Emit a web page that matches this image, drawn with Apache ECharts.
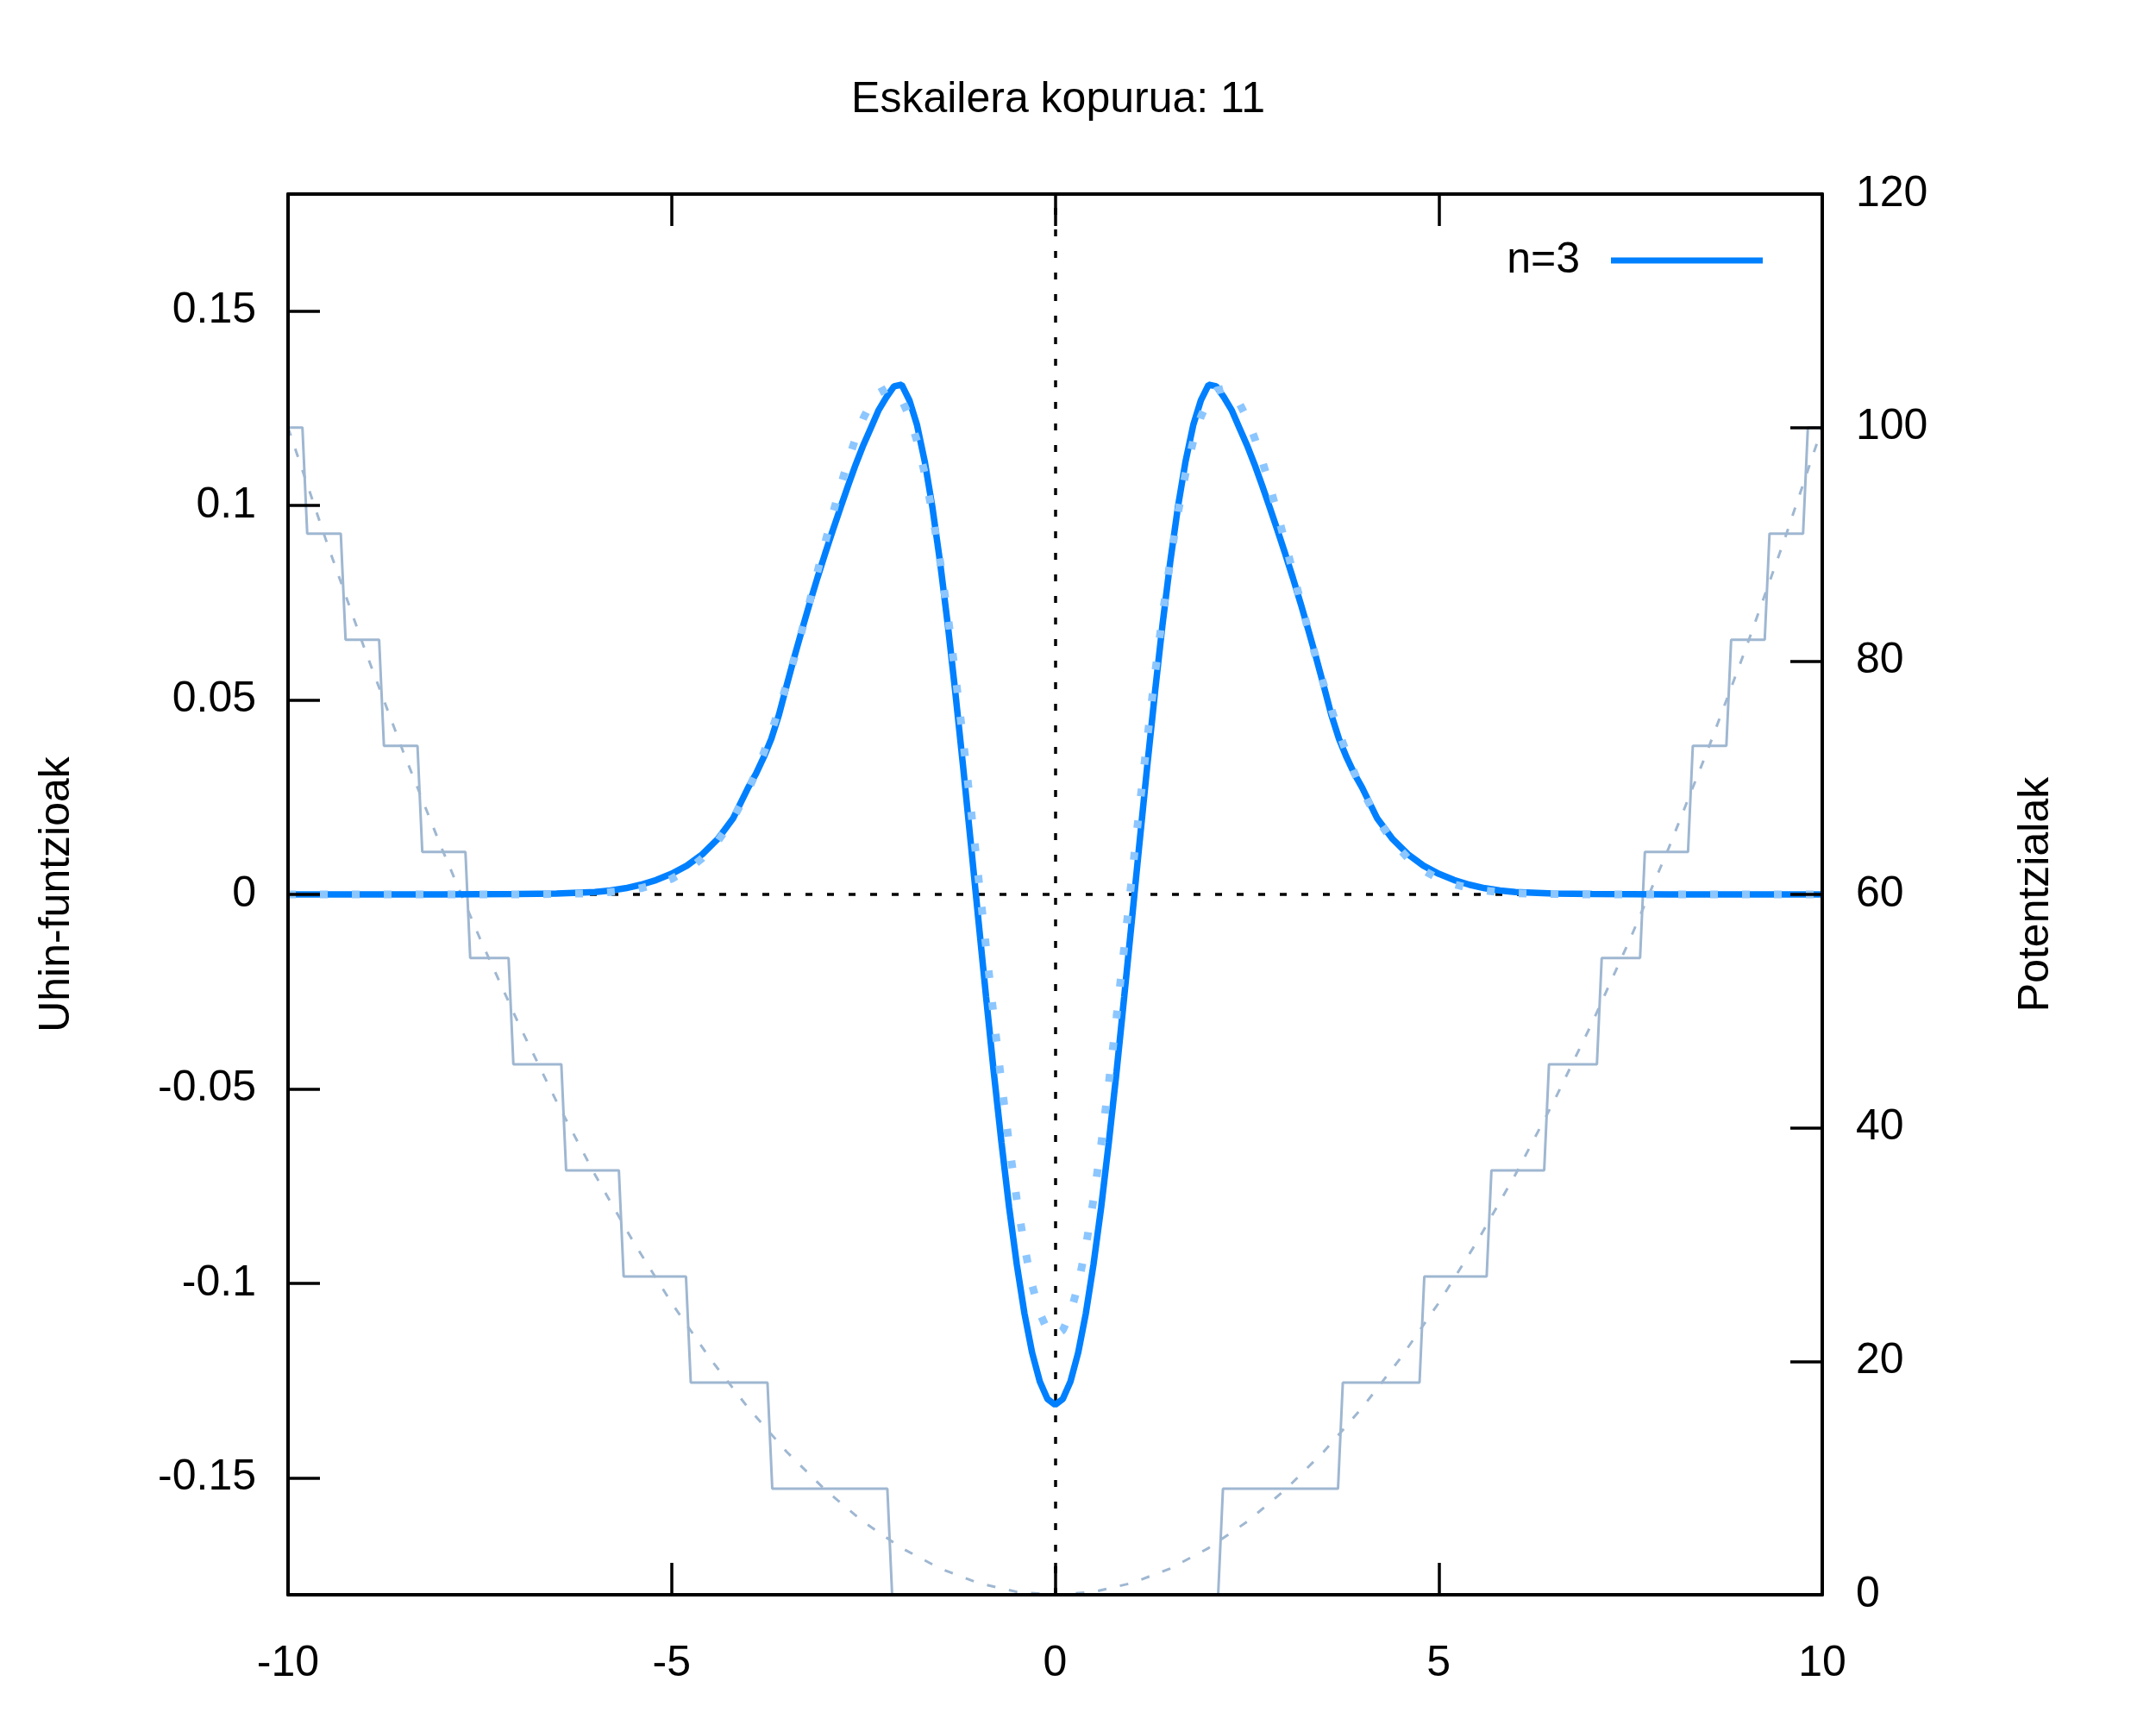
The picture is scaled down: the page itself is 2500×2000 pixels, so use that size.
<!DOCTYPE html>
<html><head><meta charset="utf-8">
<script src="https://cdn.jsdelivr.net/npm/echarts@6/dist/echarts.min.js"></script>
<style>html,body{margin:0;padding:0;background:#fff}#c{width:2500px;height:2000px}</style>
</head><body><div id="c"></div>
<script>
// ---- data ----
const waveX = [-10,-9,-8,-7,-6.5,-6,-5.8,-5.6,-5.4,-5.2,-5,-4.8,-4.6,-4.4,-4.2,-4,-3.9,-3.8,-3.7,-3.6,-3.5,-3.4,-3.3,-3.2,-3.1,-3,-2.9,-2.8,-2.7,-2.6,-2.5,-2.4,-2.3,-2.2,-2.1,-2,-1.9,-1.8,-1.7,-1.6,-1.5,-1.4,-1.3,-1.2,-1.1,-1,-0.9,-0.8,-0.7,-0.6,-0.5,-0.4,-0.3,-0.2,-0.1,0,0.1,0.2,0.3,0.4,0.5,0.6,0.7,0.8,0.9,1,1.1,1.2,1.3,1.4,1.5,1.6,1.7,1.8,1.9,2,2.1,2.2,2.3,2.4,2.5,2.6,2.7,2.8,2.9,3,3.1,3.2,3.3,3.4,3.5,3.6,3.7,3.8,3.9,4,4.2,4.4,4.6,4.8,5,5.2,5.4,5.6,5.8,6,6.5,7,8,9,10];
// n=3 wave function, staircase potential (solid)
const waveStair = [0,0,0,0.0001,0.0002,0.0006,0.0010,0.0016,0.0025,0.0037,0.0053,0.0074,0.0103,0.0142,0.0195,0.0275,0.0310,0.0352,0.0400,0.0462,0.0537,0.0610,0.0680,0.0748,0.0813,0.0875,0.0935,0.0993,0.1050,0.1105,0.1155,0.1200,0.1245,0.1278,0.1306,0.1310,0.1270,0.1206,0.1113,0.0995,0.0854,0.0694,0.0517,0.0329,0.0133,-0.0067,-0.0264,-0.0457,-0.0637,-0.0804,-0.0951,-0.1077,-0.1178,-0.1252,-0.1297,-0.1312,-0.1297,-0.1252,-0.1178,-0.1077,-0.0951,-0.0804,-0.0637,-0.0457,-0.0264,-0.0067,0.0133,0.0329,0.0517,0.0694,0.0854,0.0995,0.1113,0.1206,0.1270,0.1310,0.1306,0.1278,0.1245,0.1200,0.1155,0.1105,0.1050,0.0993,0.0935,0.0875,0.0813,0.0748,0.0680,0.0610,0.0537,0.0462,0.0400,0.0352,0.0310,0.0275,0.0195,0.0142,0.0103,0.0074,0.0053,0.0037,0.0025,0.0016,0.0010,0.0006,0.0002,0.0001,0,0,0];
// n=3 wave function, smooth parabolic potential (dotted)
const waveExact = [0,0,0,0,0.0001,0.0003,0.0006,0.0010,0.0016,0.0026,0.0040,0.0062,0.0093,0.0136,0.0194,0.0269,0.0313,0.0363,0.0417,0.0477,0.0540,0.0608,0.0679,0.0753,0.0828,0.0903,0.0977,0.1048,0.1114,0.1173,0.1224,0.1263,0.1289,0.1300,0.1295,0.1271,0.1228,0.1165,0.1082,0.0979,0.0857,0.0718,0.0564,0.0398,0.0224,0.0044,-0.0137,-0.0315,-0.0484,-0.0642,-0.0784,-0.0905,-0.1004,-0.1076,-0.1120,-0.1135,-0.1120,-0.1076,-0.1004,-0.0905,-0.0784,-0.0642,-0.0484,-0.0315,-0.0137,0.0044,0.0224,0.0398,0.0564,0.0718,0.0857,0.0979,0.1082,0.1165,0.1228,0.1271,0.1295,0.1300,0.1289,0.1263,0.1224,0.1173,0.1114,0.1048,0.0977,0.0903,0.0828,0.0753,0.0679,0.0608,0.0540,0.0477,0.0417,0.0363,0.0313,0.0269,0.0194,0.0136,0.0093,0.0062,0.0040,0.0026,0.0016,0.0010,0.0006,0.0003,0.0001,0,0,0,0];
// parabolic potential (dashed)
const potX = [-10,-9.5,-9,-8.5,-8,-7.5,-7,-6.5,-6,-5.5,-5,-4.5,-4,-3.5,-3,-2.5,-2,-1.5,-1,-0.5,0,0.5,1,1.5,2,2.5,3,3.5,4,4.5,5,5.5,6,6.5,7,7.5,8,8.5,9,9.5,10];
const potV = [100,90.25,81,72.25,64,56.25,49,42.25,36,30.25,25,20.25,16,12.25,9,6.25,4,2.25,1,0.25,0,0.25,1,2.25,4,6.25,9,12.25,16,20.25,25,30.25,36,42.25,49,56.25,64,72.25,81,90.25,100];
// staircase potential, 11 steps (corner points)
const stairX = [-10,-9.8125,-9.75,-9.3125,-9.25,-8.8125,-8.75,-8.3125,-8.25,-7.6875,-7.625,-7.125,-7.0625,-6.4375,-6.375,-5.6875,-5.625,-4.8125,-4.75,-3.75,-3.6875,-2.1875,-2.125,2.125,2.1875,3.6875,3.75,4.75,4.8125,5.625,5.6875,6.375,6.4375,7.0625,7.125,7.625,7.6875,8.25,8.3125,8.75,8.8125,9.25,9.3125,9.75,9.8125,10];
const stairV = [100,100,90.91,90.91,81.82,81.82,72.73,72.73,63.64,63.64,54.55,54.55,45.45,45.45,36.36,36.36,27.27,27.27,18.18,18.18,9.09,9.09,0,0,9.09,9.09,18.18,18.18,27.27,27.27,36.36,36.36,45.45,45.45,54.55,54.55,63.64,63.64,72.73,72.73,81.82,81.82,90.91,90.91,100,100];
const leftTicks = [-0.15,-0.1,-0.05,0,0.05,0.1,0.15];
const titleText = 'Eskailera kopurua: 11';
const legendName = 'n=3';
const leftName = 'Uhin-funtzioak';
const rightName = 'Potentzialak';

const zip = (a, b) => a.map((v, i) => [v, b[i]]);
const FONT = 'Liberation Sans, Arial, sans-serif';
const FS = 50;
const axLine = {show:true, onZero:false, lineStyle:{color:'#000', width:4}};
const tick = {show:true, inside:true, length:37, lineStyle:{color:'#000', width:3.5}};
const lab = {color:'#000', fontSize:FS, fontFamily:FONT};

const chart = echarts.init(document.getElementById('c'), null, {renderer:'canvas'});
chart.setOption({
  animation:false,
  backgroundColor:'#fff',
  title:{text:titleText, left:1222, textAlign:'center', top:86,
    textStyle:{fontSize:FS, fontWeight:'normal', color:'#000', fontFamily:FONT}},
  legend:{data:[legendName], right:451, top:272, align:'right', icon:'rect',
    itemWidth:176, itemHeight:7, selectedMode:false,
    textStyle:{fontSize:FS, color:'#000', fontFamily:FONT, padding:[0,31,0,0]}},
  grid:{left:334, right:387, top:225, bottom:151, containLabel:false},
  xAxis:[
    {type:'value', position:'bottom', min:-10, max:10, interval:5, z:10,
     axisLine:axLine, axisTick:tick, axisLabel:Object.assign({margin:55}, lab), splitLine:{show:false}},
    {type:'value', position:'top', min:-10, max:10, interval:5, z:10,
     axisLine:axLine, axisTick:tick, axisLabel:{show:false}, splitLine:{show:false}}
  ],
  yAxis:[
    {type:'value', position:'left', min:-0.18, max:0.18, z:10,
     axisLine:axLine, axisTick:Object.assign({customValues:leftTicks}, tick),
     axisLabel:Object.assign({margin:37, customValues:leftTicks}, lab), splitLine:{show:false},
     name:leftName, nameLocation:'middle', nameRotate:90, nameGap:243,
     nameTextStyle:{fontSize:FS, color:'#000', fontFamily:FONT}},
    {type:'value', position:'right', min:0, max:120, interval:20, z:10,
     axisLine:axLine, axisTick:tick, axisLabel:Object.assign({margin:39}, lab), splitLine:{show:false},
     name:rightName, nameLocation:'middle', nameRotate:90, nameGap:223,
     nameTextStyle:{fontSize:FS, color:'#000', fontFamily:FONT}}
  ],
  series:[
    {name:'stairs', type:'line', yAxisIndex:1, data:zip(stairX, stairV), showSymbol:false,
     lineStyle:{color:'#9fb7d1', width:3}, itemStyle:{color:'#9fb7d1'}, silent:true},
    {name:'parabola', type:'line', yAxisIndex:1, data:zip(potX, potV), showSymbol:false,
     lineStyle:{color:'#9fb7d1', width:3, type:[10,16]}, itemStyle:{color:'#9fb7d1'}, silent:true},
    {name:legendName, type:'line', yAxisIndex:0, data:zip(waveX, waveStair), showSymbol:false,
     lineStyle:{color:'#0080ff', width:7.5}, itemStyle:{color:'#0080ff'}, silent:true,
     markLine:{silent:true, z:1, symbol:['none','none'], label:{show:false},
       lineStyle:{color:'#000', width:3.5, type:[8,17]}, emphasis:{disabled:true},
       data:[{yAxis:0},{xAxis:0}]}},
    {name:'exact', type:'line', yAxisIndex:0, data:zip(waveX, waveExact), showSymbol:false,
     lineStyle:{color:'#8cc6ff', width:9, type:[9,28], cap:'butt'}, itemStyle:{color:'#8cc6ff'}, silent:true}
  ]
});
</script>
</body></html>
